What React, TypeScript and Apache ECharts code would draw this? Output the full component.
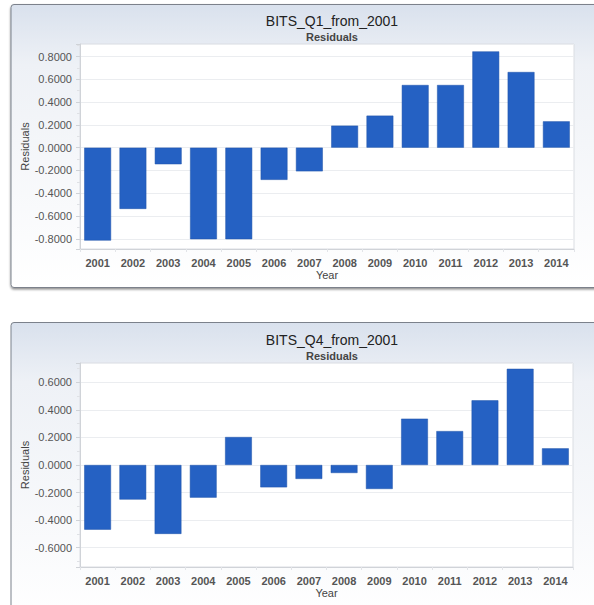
import React, { useEffect, useRef } from "react";
import * as echarts from "echarts";

const years = ["2001", "2002", "2003", "2004", "2005", "2006", "2007", "2008", "2009", "2010", "2011", "2012", "2013", "2014"];
const q1Residuals = [-0.816, -0.538, -0.146, -0.804, -0.804, -0.283, -0.208, 0.193, 0.281, 0.55, 0.55, 0.845, 0.664, 0.231];
const q4Residuals = [-0.469, -0.251, -0.5, -0.237, 0.203, -0.162, -0.101, -0.058, -0.174, 0.336, 0.246, 0.469, 0.698, 0.121];
const chartTitles = ["BITS_Q1_from_2001", "BITS_Q4_from_2001"];
const subTitle = "Residuals";
const xAxisName = "Year";
const yAxisName = "Residuals";
const q1Range = [-0.89, 0.91];
const q4Range = [-0.74, 0.74];
const tickStep = 0.2;

const FONT = "'Liberation Sans', Arial, sans-serif";
const BAR = "#2561c3";

function yLabel(v: number) {
  const k = v / tickStep;
  if (Math.abs(k - Math.round(k)) > 1e-6) return "";
  return (Math.abs(v) < 1e-9 ? 0 : v).toFixed(4);
}

export default function App() {
  const ref = useRef<HTMLDivElement>(null);
  useEffect(() => {
    if (!ref.current) return;
    const chart = echarts.init(ref.current, undefined, { renderer: "svg" });
    const panelFill = (h: number) =>
      new echarts.graphic.LinearGradient(0, 0, 0, 1, [
        { offset: 0, color: "#d9e1ed" },
        { offset: Math.min(1, 60 / h), color: "#eef1f6" },
        { offset: 1, color: "#ffffff" },
      ]);
    const grids = [
      { left: 80, top: 44, width: 494, height: 205 },
      { left: 80, top: 363, width: 493, height: 204 },
    ];
    const ranges = [q1Range, q4Range];
    const data = [q1Residuals, q4Residuals];
    const titleTops = [9, 328];
    chart.setOption({
      animation: false,
      textStyle: { fontFamily: FONT },
      graphic: [
        {
          type: "rect",
          z: -10,
          shape: { x: 11, y: 4.5, width: 600, height: 283, r: 3 },
          style: {
            fill: panelFill(283),
            stroke: "#7b818b",
            lineWidth: 1,
            shadowBlur: 2,
            shadowOffsetY: 1.5,
            shadowColor: "rgba(0,0,0,0.45)",
          },
        },
        {
          type: "rect",
          z: -10,
          shape: { x: 11, y: 322.5, width: 600, height: 300, r: 3 },
          style: {
            fill: panelFill(300),
            stroke: "#7b818b",
            lineWidth: 1,
          },
        },
      ],
      title: chartTitles.map((t, i) => ({
        text: t,
        subtext: subTitle,
        left: 327,
        top: titleTops[i],
        textAlign: "center",
        itemGap: 3,
        textStyle: { fontFamily: FONT, fontSize: 14, fontWeight: "normal", color: "#222" },
        subtextStyle: { fontFamily: FONT, fontSize: 11, fontWeight: "bold", color: "#444" },
      })),
      grid: grids.map((g) => ({
        ...g,
        show: true,
        backgroundColor: "#ffffff",
        borderColor: "#dadde2",
        borderWidth: 1,
        containLabel: false,
      })),
      xAxis: grids.map((_, i) => ({
        type: "category",
        gridIndex: i,
        data: years,
        name: xAxisName,
        nameLocation: "middle",
        nameGap: 20,
        nameTextStyle: { fontFamily: FONT, fontSize: 11, color: "#444" },
        axisLine: { onZero: false, lineStyle: { color: "#d0d3d8" } },
        axisTick: { show: true, alignWithLabel: false, length: 3, lineStyle: { color: "#e2e4e8" } },
        axisLabel: { fontFamily: FONT, fontSize: 11, fontWeight: "bold", color: "#555", margin: 8 },
      })),
      yAxis: grids.map((_, i) => ({
        type: "value",
        gridIndex: i,
        min: ranges[i][0],
        max: ranges[i][1],
        splitNumber: 9,
        minInterval: tickStep,
        maxInterval: tickStep,
        name: yAxisName,
        nameLocation: "middle",
        nameGap: 50,
        nameMoveOverlap: false,
        nameTextStyle: { fontFamily: FONT, fontSize: 11, color: "#444" },
        axisLine: { show: true, lineStyle: { color: "#d0d3d8" } },
        axisTick: { show: true, length: 4, lineStyle: { color: "#cfd2d7" } },
        minorTick: { show: true, splitNumber: 2, length: 3, lineStyle: { color: "#dfe1e5" } },
        axisLabel: {
          fontFamily: FONT,
          fontSize: 11,
          color: "#555",
          margin: 8,
          showMinLabel: false,
          showMaxLabel: false,
          formatter: (v: number) => yLabel(v),
        },
        splitLine: { show: true, lineStyle: { color: "#ebedf0" } },
      })),
      series: data.map((d, i) => ({
        type: "bar",
        xAxisIndex: i,
        yAxisIndex: i,
        data: d,
        barCategoryGap: "24%",
        itemStyle: { color: BAR, borderColor: "#1e52a8", borderWidth: 0.5 },
      })),
    });
    return () => chart.dispose();
  }, []);
  return (
    <div
      ref={ref}
      style={{ position: "fixed", left: 0, top: 0, width: 594, height: 605, background: "#ffffff" }}
    />
  );
}
